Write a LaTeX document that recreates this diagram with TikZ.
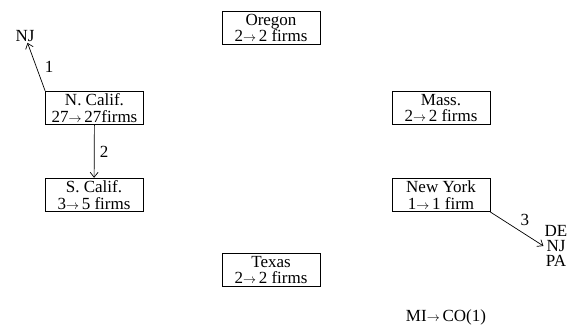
\documentclass[tikz,border=0pt]{standalone}
\usepackage{fontspec}
\setmainfont{Liberation Serif}
\usepackage{tikz}
\usetikzlibrary{arrows.meta,positioning}

\newcommand{\tto}{\resizebox{13pt}{!}{$\rightarrow$}\,}

\begin{document}
\begin{tikzpicture}[x=1pt, y=-1pt,
    state/.style={rectangle, draw, line width=0.8pt, font=\fontsize{17}{16.5}\selectfont, align=center, minimum width=98pt, inner xsep=3pt, inner ysep=2.5pt},
    dest/.style={font=\fontsize{17}{15}\selectfont, align=center, inner sep=1pt},
    lbl/.style={font=\fontsize{17}{15}\selectfont},
    move/.style={-{Straight Barb[length=5pt,width=8pt]}, line width=0.7pt}]

    \useasboundingbox (0,0) rectangle (578,332);

    % States with firm counts
    \node[state] (oregon) at (271,28) {Oregon\\2\tto 2 firms};
    \node[state] (ncal) at (94.5,108) {N. Calif.\\27\tto 27firms};
    \node[state] (mass) at (441,108) {Mass.\\2\tto 2 firms};
    \node[state] (scal) at (94,195) {S. Calif.\\3\tto 5 firms};
    \node[state] (ny) at (441,195) {New York\\1\tto 1 firm};
    \node[state] (texas) at (271,270) {Texas\\2\tto 2 firms};

    % Destinations
    \node[dest] (nj) at (25,36) {NJ};
    \node[dest] (denjpa) at (556,246) {DE\\NJ\\PA};
    \node[lbl] (mico) at (446,317) {MI\tto CO(1)};

    % Moves
    \draw[move] (ncal.north west) -- node[lbl, right=5pt] {1} (nj);
    \draw[move] (ncal) -- node[lbl, right=2pt] {2} (scal);
    \draw[move] (ny.south east) -- node[lbl, above right=0pt and 0pt] {3} (denjpa.west);
\end{tikzpicture}
\end{document}
